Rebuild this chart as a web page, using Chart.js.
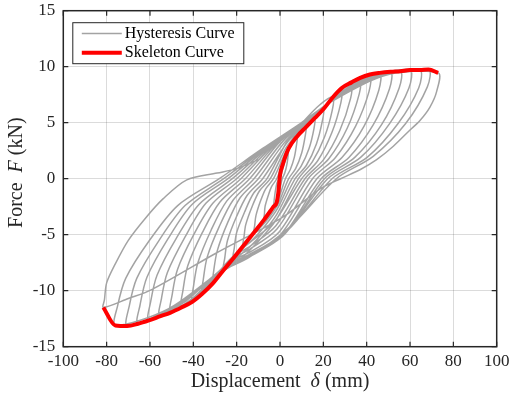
<!DOCTYPE html>
<html><head><meta charset="utf-8">
<script src="https://cdn.jsdelivr.net/npm/chart.js@4"></script>
<style>html,body{margin:0;padding:0;background:#fff;}#wrap{width:511px;height:404px;}</style>
</head><body><div id="wrap"><canvas id="c" width="511" height="404"></canvas></div>
<script>
const xTicks = [-100,-80,-60,-40,-20,0,20,40,60,80,100];
const yTicks = [-15,-10,-5,0,5,10,15];
const seriesNames = ['Hysteresis Curve','Skeleton Curve'];
const xTitleParts = ['Displacement  ','\u03B4',' (mm)'];
const yTitleParts = ['Force  ','F',' (kN)'];

const skeletonDisp = [-81.5,-76,-70.5,-65.5,-60.5,-55.5,-50.5,-45.5,-40.5,-36,-31,-26,-21.5,-17,-12,-7.5,-3,-1.5,-0.8,0,1.5,4,8,12,16,20,24.5,28.5,33,37,41.5,46,51,55.5,60,64.5,68.5,73];
const skeletonForce = [-11.5,-13.1,-13.15,-12.95,-12.65,-12.3,-11.95,-11.5,-11.0,-10.3,-9.35,-8.15,-7.1,-6.0,-4.8,-3.7,-2.5,-2.1,-1.3,0.3,1.4,2.7,3.8,4.6,5.4,6.2,7.3,8.1,8.6,9.0,9.3,9.45,9.55,9.6,9.7,9.7,9.75,9.45];

// hysteresis path, one inner array per half cycle
const loopDisp = [
 [0],
 [4,3.85,3.3,2.2,1,-0.2,-1.2,-2.2,-3],
 [-2.8,-2.5,-2.1,-1.5,-0.5,2.05,4.2,6.3,8],
 [7.75,6.6,4.7,2.5,-0.5,-3.0,-5.5,-7.5],
 [-7.2,-6.9,-5.5,-3.9,-1.5,2.6,5.9,9.3,12],
 [11.7,10,7.2,4,-0.8,-4.8,-8.8,-12],
 [-11.7,-11.1,-9.0,-6.6,-3,2.7,7.5,12.2,16],
 [15.7,13.4,9.7,5.5,-1.25,-6.9,-12.5,-17],
 [-16.6,-15.8,-12.9,-9.5,-4.5,2.9,9.0,15.1,20],
 [19.6,16.8,12.2,7,-1.55,-8.7,-15.8,-21.5],
 [-21.1,-20.0,-16.4,-12.2,-6,3.2,10.8,18.4,24.5],
 [24.1,20.5,14.9,8.5,-1.85,-10.5,-19.1,-26],
 [-25.5,-24.2,-20.1,-15.2,-8,4,14.5,21,28.5],
 [28.1,23.9,17.4,10,-2.4,-13.3,-21,-26,-31],
 [-30.5,-28.9,-24.1,-18.4,-10,2.8,14,21.2,27,33],
 [32.6,27.6,20.1,11.5,-1.9,-13.6,-22,-29,-36],
 [-35.4,-33.6,-28.1,-21.6,-12,1.6,13.5,21.4,29,37],
 [36.6,31,22.6,13,-1.4,-14,-23,-31.8,-40.5],
 [-39.9,-37.9,-31.8,-24.6,-14,0.4,13,21.6,31.5,41.5],
 [41.1,34.9,25.6,15,-0.6,-14.3,-24,-34.8,-45.5],
 [-44.8,-42.6,-35.8,-27.8,-16,-0.8,12.5,21.8,34,46],
 [45.6,38.8,28.6,17,0.2,-14.5,-25,-37.8,-50.5],
 [-49.8,-47.3,-39.8,-31,-18,-2,12,22,36.5,51],
 [50.5,43,31.8,19,1.2,-14.4,-25.5,-40.5,-55.5],
 [-54.7,-52,-43.8,-34.2,-20,-3.2,11.5,22.2,39,55.5],
 [55.0,46.8,34.5,20.5,1.9,-14.4,-26,-43.3,-60.5],
 [-59.7,-56.7,-47.8,-37.4,-22,-4.4,11,22.4,41,60],
 [59.5,50.5,37.2,22,2.6,-14.4,-26.5,-46,-65.5],
 [-64.6,-61.4,-51.8,-40.6,-24,-5.6,10.5,22.6,43.5,64.5],
 [64.0,54.4,40.2,24,3.6,-14.3,-27,-48.8,-70.5],
 [-69.6,-66.1,-55.8,-43.8,-26,-6.8,10,22.8,45.5,68.5],
 [68.0,57.9,43,26,4.6,-14.1,-27.5,-51.8,-76],
 [-75.0,-71.2,-60.2,-47.2,-28,-8,9.5,23,48,73],
 [72.3,69.2,64.6,60,52.3,44.6,36.9,28,18.5,1.5,-30,-59.2,-70,-81.5],
 [-81,-80,-76,-70,-62,-54,-43,-29,-20,-10]
];
const loopForce = [
 [0],
 [2.7,2.3,1.4,0.5,0,-1.1,-1.75,-2.25,-2.5],
 [-2.1,-1.6,-1.05,-0.45,0,1.7,2.7,3.4,3.8],
 [3.2,1.9,0.8,0,-1.7,-2.6,-3.3,-3.7],
 [-3.2,-2.5,-1.55,-0.7,0,2.1,3.2,4.1,4.6],
 [3.9,2.3,0.9,0,-2.2,-3.4,-4.3,-4.8],
 [-4.2,-3.3,-2.0,-0.9,0,2.4,3.8,4.9,5.4],
 [4.5,2.7,1.1,0,-2.7,-4.2,-5.4,-6.0],
 [-5.2,-4.1,-2.5,-1.1,0,2.8,4.3,5.6,6.2],
 [5.2,3.1,1.2,0,-3.2,-5.0,-6.4,-7.1],
 [-6.2,-4.8,-3.0,-1.3,0,3.3,5.1,6.6,7.3],
 [6.1,3.7,1.5,0,-3.7,-5.7,-7.3,-8.15],
 [-7.1,-5.5,-3.4,-1.5,0,3.4,5.3,6.5,8.1],
 [6.8,4.1,1.6,0,-3.8,-5.6,-6.8,-7.85,-9.35],
 [-8.1,-6.4,-3.9,-1.7,0,3.4,5.3,6.5,7.6,8.6],
 [7.2,4.3,1.7,0,-4.2,-6.0,-7.0,-8.55,-10.3],
 [-9.0,-7.0,-4.3,-1.9,0,3.4,5.3,6.55,7.8,9.0],
 [7.6,4.5,1.8,0,-4.5,-6.3,-7.2,-9.2,-11.0],
 [-9.6,-7.5,-4.6,-2.0,0,3.4,5.3,6.6,8.1,9.3],
 [7.8,4.7,1.9,0,-4.8,-6.6,-7.5,-9.75,-11.5],
 [-10.0,-7.8,-4.8,-2.1,0,3.3,5.25,6.6,8.4,9.45],
 [7.9,4.7,1.9,0,-5.0,-6.8,-7.7,-10.3,-11.95],
 [-10.4,-8.1,-5.0,-2.2,0,3.2,5.2,6.65,8.7,9.55],
 [8.0,4.8,1.9,0,-5.1,-6.9,-7.8,-10.7,-12.3],
 [-10.7,-8.4,-5.2,-2.2,0,3.1,5.15,6.7,8.85,9.6],
 [8.1,4.8,1.9,0,-5.0,-7.0,-7.95,-10.9,-12.65],
 [-11.0,-8.6,-5.3,-2.3,0,3.0,5.1,6.7,9.0,9.7],
 [8.1,4.9,1.9,0,-4.8,-7.0,-8.05,-11.15,-12.95],
 [-11.3,-8.8,-5.4,-2.3,0,2.9,5.05,6.75,9.1,9.7],
 [8.1,4.9,1.9,0,-4.6,-7.0,-8.2,-11.4,-13.15],
 [-11.4,-8.9,-5.5,-2.4,0,2.8,5.0,6.8,9.15,9.75],
 [8.2,4.9,2.0,0,-4.3,-7.0,-8.3,-11.65,-13.1],
 [-11.4,-8.9,-5.5,-2.4,0,2.7,4.95,6.8,9.2,9.45],
 [7.8,6.4,5.2,4.35,2.9,1.7,0.8,0,-0.9,-3.4,-6.7,-9.9,-10.7,-11.5],
 [-10.8,-9.3,-7.6,-5.5,-3.5,-1.8,-0.1,0.5,0.9,1.7]
];

const hx = loopDisp.flat(), hy = loopForce.flat();
const hystPts = hx.map((v,i)=>({x:v,y:hy[i]}));
const skelPts = skeletonDisp.map((v,i)=>({x:v,y:skeletonForce[i]}));

const FONT = '"Liberation Serif","Times New Roman",serif';
const INK = '#262626';
const GREY = '#a3a3a3';
const RED = '#ff0000';

function drawParts(ctx, parts, cx, cy, size, rotate){
  const fonts = parts.map((p,i)=> (i===1?'italic ':'') + size + 'px ' + FONT);
  let total = 0; const widths = parts.map((p,i)=>{ctx.font=fonts[i]; const w=ctx.measureText(p).width; total+=w; return w;});
  ctx.save(); ctx.translate(cx,cy); if(rotate) ctx.rotate(-Math.PI/2);
  ctx.fillStyle = INK; ctx.textBaseline='alphabetic'; ctx.textAlign='left';
  let x = -total/2;
  parts.forEach((p,i)=>{ctx.font=fonts[i]; ctx.fillText(p,x,0); x+=widths[i];});
  ctx.restore();
}

const framePlugin = {
  id:'frame',
  afterDatasetsDraw(chart){
    const {ctx, chartArea:a, scales:{x,y}} = chart;
    ctx.save();
    ctx.strokeStyle = INK; ctx.lineWidth = 1.5;
    ctx.strokeRect(a.left,a.top,a.right-a.left,a.bottom-a.top);
    ctx.lineWidth = 1.2;
    ctx.beginPath();
    xTicks.forEach(v=>{const p=x.getPixelForValue(v); ctx.moveTo(p,a.bottom); ctx.lineTo(p,a.bottom-5); ctx.moveTo(p,a.top); ctx.lineTo(p,a.top+5);});
    yTicks.forEach(v=>{const p=y.getPixelForValue(v); ctx.moveTo(a.left,p); ctx.lineTo(a.left+5,p); ctx.moveTo(a.right,p); ctx.lineTo(a.right-5,p);});
    ctx.stroke();
    // legend
    const bx = a.left + 9.5, by = a.top + 12, bw = 171, bh = 41;
    ctx.fillStyle = '#fff'; ctx.fillRect(bx,by,bw,bh);
    ctx.strokeStyle = INK; ctx.lineWidth = 1; ctx.strokeRect(bx,by,bw,bh);
    ctx.lineCap = 'butt';
    ctx.strokeStyle = GREY; ctx.lineWidth = 1.5;
    ctx.beginPath(); ctx.moveTo(bx+9,by+10.8); ctx.lineTo(bx+49,by+10.8); ctx.stroke();
    ctx.strokeStyle = RED; ctx.lineWidth = 4;
    ctx.beginPath(); ctx.moveTo(bx+9,by+30); ctx.lineTo(bx+49,by+30); ctx.stroke();
    ctx.fillStyle = '#000'; ctx.font = '16px ' + FONT; ctx.textBaseline='middle'; ctx.textAlign='left';
    ctx.fillText(seriesNames[0], bx+52, by+11);
    ctx.fillText(seriesNames[1], bx+52, by+30);
    ctx.restore();
    // axis titles
    drawParts(ctx, xTitleParts, (a.left+a.right)/2, a.bottom+40, 20, false);
    drawParts(ctx, yTitleParts, 22, (a.top+a.bottom)/2 - 6, 20, true);
  }
};

new Chart(document.getElementById('c'), {
  type:'line',
  data:{datasets:[
    {label:seriesNames[1], data:skelPts, borderColor:RED, backgroundColor:RED, borderWidth:4, pointRadius:0, cubicInterpolationMode:'monotone', fill:false, order:0},
    {label:seriesNames[0], data:hystPts, borderColor:GREY, backgroundColor:GREY, borderWidth:1.5, pointRadius:0, tension:0.3, fill:false, order:1}
  ]},
  options:{
    responsive:false, animation:false, devicePixelRatio:1,
    layout:{padding:{top:10.7,right:14.3,left:0,bottom:0}},
    plugins:{legend:{display:false}, tooltip:{enabled:false}},
    scales:{
      x:{type:'linear', min:-100, max:100,
        afterBuildTicks:s=>{s.ticks = xTicks.map(v=>({value:v}));},
        ticks:{font:{family:FONT,size:17}, color:INK, padding:5, maxRotation:0, autoSkip:false},
        grid:{color:'rgba(0,0,0,0.14)', drawTicks:false, lineWidth:1},
        border:{display:false},
        afterFit:s=>{s.height = 57.3; s.paddingLeft = 0; s.paddingRight = 0;}},
      y:{type:'linear', min:-15, max:15,
        afterBuildTicks:s=>{s.ticks = yTicks.map(v=>({value:v}));},
        ticks:{font:{family:FONT,size:17}, color:INK, padding:8, autoSkip:false},
        grid:{color:'rgba(0,0,0,0.14)', drawTicks:false, lineWidth:1},
        border:{display:false},
        afterFit:s=>{s.width = 63.3; s.paddingTop = 0; s.paddingBottom = 0;}}
    }
  },
  plugins:[framePlugin]
});
</script></body></html>
